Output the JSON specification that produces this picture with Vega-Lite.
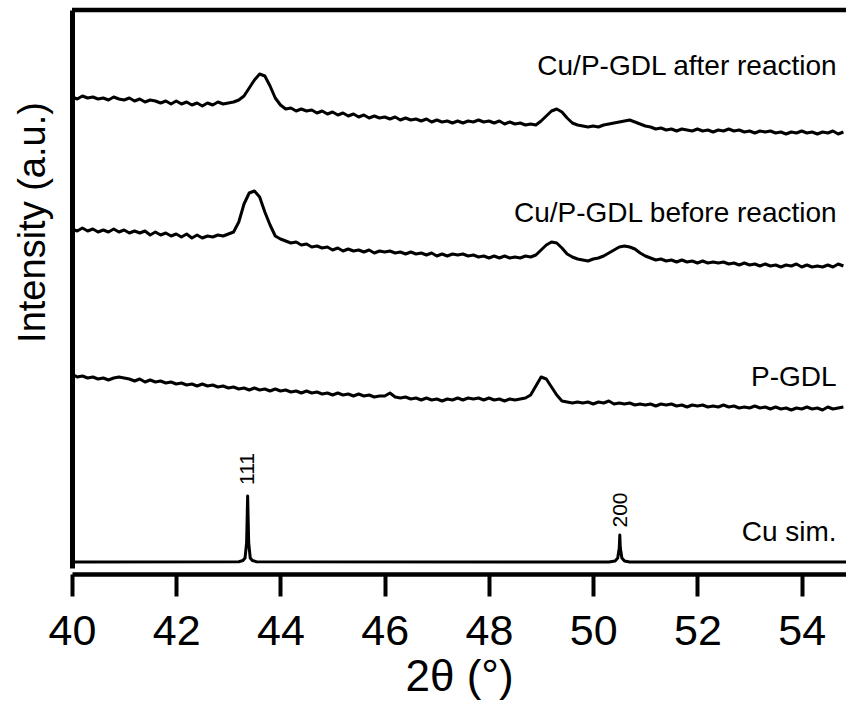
{
  "$schema": "https://vega.github.io/schema/vega-lite/v6.json",
  "width": 774,
  "height": 558,
  "autosize": {"type": "none"},
  "padding": {"left": 72, "top": 10, "right": 0, "bottom": 136},
  "config": {"view": {"stroke": null}, "font": "Liberation Sans"},
  "datasets": {
    "curves": [
      {"s":"A","x":40.0,"y":471},{"s":"A","x":40.1,"y":469},{"s":"A","x":40.2,"y":472},{"s":"A","x":40.3,"y":470},{"s":"A","x":40.4,"y":471},{"s":"A","x":40.5,"y":469},{"s":"A","x":40.6,"y":470},{"s":"A","x":40.7,"y":468},{"s":"A","x":40.8,"y":471},{"s":"A","x":40.9,"y":469},
      {"s":"A","x":41.0,"y":468},{"s":"A","x":41.1,"y":470},{"s":"A","x":41.2,"y":467},{"s":"A","x":41.3,"y":469},{"s":"A","x":41.4,"y":466},{"s":"A","x":41.5,"y":468},{"s":"A","x":41.6,"y":467},{"s":"A","x":41.7,"y":465},{"s":"A","x":41.8,"y":467},{"s":"A","x":41.9,"y":464},
      {"s":"A","x":42.0,"y":467},{"s":"A","x":42.1,"y":464},{"s":"A","x":42.2,"y":466},{"s":"A","x":42.3,"y":463},{"s":"A","x":42.4,"y":465},{"s":"A","x":42.5,"y":462},{"s":"A","x":42.6,"y":465},{"s":"A","x":42.7,"y":463},{"s":"A","x":42.8,"y":466},{"s":"A","x":42.9,"y":464},
      {"s":"A","x":43.0,"y":465},{"s":"A","x":43.1,"y":466},{"s":"A","x":43.2,"y":468},{"s":"A","x":43.3,"y":472},{"s":"A","x":43.4,"y":480},{"s":"A","x":43.5,"y":488},{"s":"A","x":43.6,"y":494},{"s":"A","x":43.7,"y":492},{"s":"A","x":43.8,"y":482},{"s":"A","x":43.9,"y":470},
      {"s":"A","x":44.0,"y":463},{"s":"A","x":44.1,"y":459},{"s":"A","x":44.2,"y":460},{"s":"A","x":44.3,"y":457},{"s":"A","x":44.4,"y":459},{"s":"A","x":44.5,"y":457},{"s":"A","x":44.6,"y":458},{"s":"A","x":44.7,"y":455},{"s":"A","x":44.8,"y":457},{"s":"A","x":44.9,"y":454},
      {"s":"A","x":45.0,"y":456},{"s":"A","x":45.1,"y":453},{"s":"A","x":45.2,"y":455},{"s":"A","x":45.3,"y":452},{"s":"A","x":45.4,"y":454},{"s":"A","x":45.5,"y":451},{"s":"A","x":45.6,"y":453},{"s":"A","x":45.7,"y":450},{"s":"A","x":45.8,"y":452},{"s":"A","x":45.9,"y":450},
      {"s":"A","x":46.0,"y":451},{"s":"A","x":46.1,"y":449},{"s":"A","x":46.2,"y":451},{"s":"A","x":46.3,"y":448},{"s":"A","x":46.4,"y":450},{"s":"A","x":46.5,"y":448},{"s":"A","x":46.6,"y":449},{"s":"A","x":46.7,"y":447},{"s":"A","x":46.8,"y":449},{"s":"A","x":46.9,"y":446},
      {"s":"A","x":47.0,"y":448},{"s":"A","x":47.1,"y":446},{"s":"A","x":47.2,"y":447},{"s":"A","x":47.3,"y":445},{"s":"A","x":47.4,"y":447},{"s":"A","x":47.5,"y":445},{"s":"A","x":47.6,"y":447},{"s":"A","x":47.7,"y":446},{"s":"A","x":47.8,"y":448},{"s":"A","x":47.9,"y":446},
      {"s":"A","x":48.0,"y":447},{"s":"A","x":48.1,"y":445},{"s":"A","x":48.2,"y":447},{"s":"A","x":48.3,"y":444},{"s":"A","x":48.4,"y":446},{"s":"A","x":48.5,"y":444},{"s":"A","x":48.6,"y":445},{"s":"A","x":48.7,"y":443},{"s":"A","x":48.8,"y":444},{"s":"A","x":48.9,"y":443},
      {"s":"A","x":49.0,"y":447},{"s":"A","x":49.1,"y":452},{"s":"A","x":49.2,"y":457},{"s":"A","x":49.3,"y":459},{"s":"A","x":49.4,"y":456},{"s":"A","x":49.5,"y":450},{"s":"A","x":49.6,"y":445},{"s":"A","x":49.7,"y":443},{"s":"A","x":49.8,"y":442},{"s":"A","x":49.9,"y":441},
      {"s":"A","x":50.0,"y":442},{"s":"A","x":50.1,"y":441},{"s":"A","x":50.2,"y":443},{"s":"A","x":50.3,"y":444},{"s":"A","x":50.4,"y":445},{"s":"A","x":50.5,"y":446},{"s":"A","x":50.6,"y":447},{"s":"A","x":50.7,"y":448},{"s":"A","x":50.8,"y":446},{"s":"A","x":50.9,"y":444},
      {"s":"A","x":51.0,"y":442},{"s":"A","x":51.1,"y":441},{"s":"A","x":51.2,"y":439},{"s":"A","x":51.3,"y":440},{"s":"A","x":51.4,"y":438},{"s":"A","x":51.5,"y":439},{"s":"A","x":51.6,"y":437},{"s":"A","x":51.7,"y":439},{"s":"A","x":51.8,"y":438},{"s":"A","x":51.9,"y":437},
      {"s":"A","x":52.0,"y":439},{"s":"A","x":52.1,"y":437},{"s":"A","x":52.2,"y":438},{"s":"A","x":52.3,"y":436},{"s":"A","x":52.4,"y":438},{"s":"A","x":52.5,"y":437},{"s":"A","x":52.6,"y":439},{"s":"A","x":52.7,"y":437},{"s":"A","x":52.8,"y":438},{"s":"A","x":52.9,"y":436},
      {"s":"A","x":53.0,"y":437},{"s":"A","x":53.1,"y":435},{"s":"A","x":53.2,"y":437},{"s":"A","x":53.3,"y":436},{"s":"A","x":53.4,"y":437},{"s":"A","x":53.5,"y":435},{"s":"A","x":53.6,"y":436},{"s":"A","x":53.7,"y":434},{"s":"A","x":53.8,"y":436},{"s":"A","x":53.9,"y":435},
      {"s":"A","x":54.0,"y":437},{"s":"A","x":54.1,"y":435},{"s":"A","x":54.2,"y":436},{"s":"A","x":54.3,"y":434},{"s":"A","x":54.4,"y":436},{"s":"A","x":54.5,"y":435},{"s":"A","x":54.6,"y":437},{"s":"A","x":54.7,"y":434},{"s":"A","x":54.8,"y":436},

      {"s":"B","x":40.0,"y":339},{"s":"B","x":40.1,"y":337},{"s":"B","x":40.2,"y":340},{"s":"B","x":40.3,"y":337},{"s":"B","x":40.4,"y":339},{"s":"B","x":40.5,"y":336},{"s":"B","x":40.6,"y":338},{"s":"B","x":40.7,"y":336},{"s":"B","x":40.8,"y":339},{"s":"B","x":40.9,"y":336},
      {"s":"B","x":41.0,"y":338},{"s":"B","x":41.1,"y":335},{"s":"B","x":41.2,"y":337},{"s":"B","x":41.3,"y":335},{"s":"B","x":41.4,"y":337},{"s":"B","x":41.5,"y":333},{"s":"B","x":41.6,"y":336},{"s":"B","x":41.7,"y":333},{"s":"B","x":41.8,"y":335},{"s":"B","x":41.9,"y":332},
      {"s":"B","x":42.0,"y":334},{"s":"B","x":42.1,"y":331},{"s":"B","x":42.2,"y":334},{"s":"B","x":42.3,"y":330},{"s":"B","x":42.4,"y":333},{"s":"B","x":42.5,"y":330},{"s":"B","x":42.6,"y":332},{"s":"B","x":42.7,"y":331},{"s":"B","x":42.8,"y":333},{"s":"B","x":42.9,"y":332},
      {"s":"B","x":43.0,"y":334},{"s":"B","x":43.1,"y":336},{"s":"B","x":43.2,"y":346},{"s":"B","x":43.3,"y":364},{"s":"B","x":43.4,"y":375},{"s":"B","x":43.5,"y":377},{"s":"B","x":43.6,"y":371},{"s":"B","x":43.7,"y":356},{"s":"B","x":43.8,"y":343},{"s":"B","x":43.9,"y":332},
      {"s":"B","x":44.0,"y":329},{"s":"B","x":44.1,"y":327},{"s":"B","x":44.2,"y":325},{"s":"B","x":44.3,"y":326},{"s":"B","x":44.4,"y":323},{"s":"B","x":44.5,"y":324},{"s":"B","x":44.6,"y":321},{"s":"B","x":44.7,"y":322},{"s":"B","x":44.8,"y":320},{"s":"B","x":44.9,"y":321},
      {"s":"B","x":45.0,"y":318},{"s":"B","x":45.1,"y":320},{"s":"B","x":45.2,"y":317},{"s":"B","x":45.3,"y":319},{"s":"B","x":45.4,"y":317},{"s":"B","x":45.5,"y":318},{"s":"B","x":45.6,"y":316},{"s":"B","x":45.7,"y":318},{"s":"B","x":45.8,"y":315},{"s":"B","x":45.9,"y":317},
      {"s":"B","x":46.0,"y":316},{"s":"B","x":46.1,"y":317},{"s":"B","x":46.2,"y":315},{"s":"B","x":46.3,"y":316},{"s":"B","x":46.4,"y":314},{"s":"B","x":46.5,"y":316},{"s":"B","x":46.6,"y":314},{"s":"B","x":46.7,"y":315},{"s":"B","x":46.8,"y":313},{"s":"B","x":46.9,"y":315},
      {"s":"B","x":47.0,"y":312},{"s":"B","x":47.1,"y":314},{"s":"B","x":47.2,"y":312},{"s":"B","x":47.3,"y":314},{"s":"B","x":47.4,"y":313},{"s":"B","x":47.5,"y":314},{"s":"B","x":47.6,"y":312},{"s":"B","x":47.7,"y":313},{"s":"B","x":47.8,"y":311},{"s":"B","x":47.9,"y":312},
      {"s":"B","x":48.0,"y":310},{"s":"B","x":48.1,"y":312},{"s":"B","x":48.2,"y":310},{"s":"B","x":48.3,"y":312},{"s":"B","x":48.4,"y":310},{"s":"B","x":48.5,"y":311},{"s":"B","x":48.6,"y":310},{"s":"B","x":48.7,"y":312},{"s":"B","x":48.8,"y":311},{"s":"B","x":48.9,"y":313},
      {"s":"B","x":49.0,"y":318},{"s":"B","x":49.1,"y":323},{"s":"B","x":49.2,"y":326},{"s":"B","x":49.3,"y":325},{"s":"B","x":49.4,"y":320},{"s":"B","x":49.5,"y":314},{"s":"B","x":49.6,"y":311},{"s":"B","x":49.7,"y":309},{"s":"B","x":49.8,"y":308},{"s":"B","x":49.9,"y":307},
      {"s":"B","x":50.0,"y":309},{"s":"B","x":50.1,"y":310},{"s":"B","x":50.2,"y":312},{"s":"B","x":50.3,"y":315},{"s":"B","x":50.4,"y":318},{"s":"B","x":50.5,"y":321},{"s":"B","x":50.6,"y":322},{"s":"B","x":50.7,"y":321},{"s":"B","x":50.8,"y":319},{"s":"B","x":50.9,"y":315},
      {"s":"B","x":51.0,"y":312},{"s":"B","x":51.1,"y":310},{"s":"B","x":51.2,"y":308},{"s":"B","x":51.3,"y":309},{"s":"B","x":51.4,"y":307},{"s":"B","x":51.5,"y":308},{"s":"B","x":51.6,"y":306},{"s":"B","x":51.7,"y":308},{"s":"B","x":51.8,"y":306},{"s":"B","x":51.9,"y":307},
      {"s":"B","x":52.0,"y":305},{"s":"B","x":52.1,"y":307},{"s":"B","x":52.2,"y":305},{"s":"B","x":52.3,"y":306},{"s":"B","x":52.4,"y":305},{"s":"B","x":52.5,"y":306},{"s":"B","x":52.6,"y":304},{"s":"B","x":52.7,"y":305},{"s":"B","x":52.8,"y":303},{"s":"B","x":52.9,"y":305},
      {"s":"B","x":53.0,"y":303},{"s":"B","x":53.1,"y":304},{"s":"B","x":53.2,"y":302},{"s":"B","x":53.3,"y":304},{"s":"B","x":53.4,"y":302},{"s":"B","x":53.5,"y":303},{"s":"B","x":53.6,"y":301},{"s":"B","x":53.7,"y":303},{"s":"B","x":53.8,"y":302},{"s":"B","x":53.9,"y":304},
      {"s":"B","x":54.0,"y":301},{"s":"B","x":54.1,"y":303},{"s":"B","x":54.2,"y":301},{"s":"B","x":54.3,"y":302},{"s":"B","x":54.4,"y":301},{"s":"B","x":54.5,"y":303},{"s":"B","x":54.6,"y":301},{"s":"B","x":54.7,"y":304},{"s":"B","x":54.8,"y":302},

      {"s":"C","x":40.0,"y":194},{"s":"C","x":40.1,"y":191},{"s":"C","x":40.2,"y":192},{"s":"C","x":40.3,"y":190},{"s":"C","x":40.4,"y":191},{"s":"C","x":40.5,"y":189},{"s":"C","x":40.6,"y":190},{"s":"C","x":40.7,"y":188},{"s":"C","x":40.8,"y":190},{"s":"C","x":40.9,"y":191},
      {"s":"C","x":41.0,"y":190},{"s":"C","x":41.1,"y":189},{"s":"C","x":41.2,"y":187},{"s":"C","x":41.3,"y":189},{"s":"C","x":41.4,"y":186},{"s":"C","x":41.5,"y":188},{"s":"C","x":41.6,"y":186},{"s":"C","x":41.7,"y":187},{"s":"C","x":41.8,"y":185},{"s":"C","x":41.9,"y":186},
      {"s":"C","x":42.0,"y":184},{"s":"C","x":42.1,"y":185},{"s":"C","x":42.2,"y":183},{"s":"C","x":42.3,"y":184},{"s":"C","x":42.4,"y":182},{"s":"C","x":42.5,"y":184},{"s":"C","x":42.6,"y":182},{"s":"C","x":42.7,"y":183},{"s":"C","x":42.8,"y":181},{"s":"C","x":42.9,"y":182},
      {"s":"C","x":43.0,"y":180},{"s":"C","x":43.1,"y":181},{"s":"C","x":43.2,"y":179},{"s":"C","x":43.3,"y":180},{"s":"C","x":43.4,"y":178},{"s":"C","x":43.5,"y":180},{"s":"C","x":43.6,"y":178},{"s":"C","x":43.7,"y":179},{"s":"C","x":43.8,"y":177},{"s":"C","x":43.9,"y":179},
      {"s":"C","x":44.0,"y":177},{"s":"C","x":44.1,"y":178},{"s":"C","x":44.2,"y":176},{"s":"C","x":44.3,"y":177},{"s":"C","x":44.4,"y":175},{"s":"C","x":44.5,"y":177},{"s":"C","x":44.6,"y":175},{"s":"C","x":44.7,"y":176},{"s":"C","x":44.8,"y":174},{"s":"C","x":44.9,"y":175},
      {"s":"C","x":45.0,"y":173},{"s":"C","x":45.1,"y":175},{"s":"C","x":45.2,"y":173},{"s":"C","x":45.3,"y":174},{"s":"C","x":45.4,"y":172},{"s":"C","x":45.5,"y":174},{"s":"C","x":45.6,"y":172},{"s":"C","x":45.7,"y":173},{"s":"C","x":45.8,"y":171},{"s":"C","x":45.9,"y":172},
      {"s":"C","x":46.0,"y":172},{"s":"C","x":46.1,"y":175},{"s":"C","x":46.2,"y":171},{"s":"C","x":46.3,"y":170},{"s":"C","x":46.4,"y":171},{"s":"C","x":46.5,"y":169},{"s":"C","x":46.6,"y":170},{"s":"C","x":46.7,"y":168},{"s":"C","x":46.8,"y":170},{"s":"C","x":46.9,"y":168},
      {"s":"C","x":47.0,"y":169},{"s":"C","x":47.1,"y":167},{"s":"C","x":47.2,"y":169},{"s":"C","x":47.3,"y":168},{"s":"C","x":47.4,"y":170},{"s":"C","x":47.5,"y":168},{"s":"C","x":47.6,"y":170},{"s":"C","x":47.7,"y":169},{"s":"C","x":47.8,"y":170},{"s":"C","x":47.9,"y":168},
      {"s":"C","x":48.0,"y":170},{"s":"C","x":48.1,"y":168},{"s":"C","x":48.2,"y":169},{"s":"C","x":48.3,"y":167},{"s":"C","x":48.4,"y":169},{"s":"C","x":48.5,"y":168},{"s":"C","x":48.6,"y":169},{"s":"C","x":48.7,"y":170},{"s":"C","x":48.8,"y":173},{"s":"C","x":48.9,"y":182},
      {"s":"C","x":49.0,"y":191},{"s":"C","x":49.1,"y":189},{"s":"C","x":49.2,"y":181},{"s":"C","x":49.3,"y":173},{"s":"C","x":49.4,"y":167},{"s":"C","x":49.5,"y":166},{"s":"C","x":49.6,"y":165},{"s":"C","x":49.7,"y":166},{"s":"C","x":49.8,"y":165},{"s":"C","x":49.9,"y":166},
      {"s":"C","x":50.0,"y":164},{"s":"C","x":50.1,"y":166},{"s":"C","x":50.2,"y":165},{"s":"C","x":50.3,"y":167},{"s":"C","x":50.4,"y":164},{"s":"C","x":50.5,"y":165},{"s":"C","x":50.6,"y":164},{"s":"C","x":50.7,"y":165},{"s":"C","x":50.8,"y":163},{"s":"C","x":50.9,"y":164},
      {"s":"C","x":51.0,"y":163},{"s":"C","x":51.1,"y":164},{"s":"C","x":51.2,"y":162},{"s":"C","x":51.3,"y":164},{"s":"C","x":51.4,"y":163},{"s":"C","x":51.5,"y":164},{"s":"C","x":51.6,"y":162},{"s":"C","x":51.7,"y":163},{"s":"C","x":51.8,"y":161},{"s":"C","x":51.9,"y":163},
      {"s":"C","x":52.0,"y":162},{"s":"C","x":52.1,"y":163},{"s":"C","x":52.2,"y":161},{"s":"C","x":52.3,"y":162},{"s":"C","x":52.4,"y":161},{"s":"C","x":52.5,"y":163},{"s":"C","x":52.6,"y":161},{"s":"C","x":52.7,"y":162},{"s":"C","x":52.8,"y":160},{"s":"C","x":52.9,"y":161},
      {"s":"C","x":53.0,"y":160},{"s":"C","x":53.1,"y":162},{"s":"C","x":53.2,"y":160},{"s":"C","x":53.3,"y":161},{"s":"C","x":53.4,"y":159},{"s":"C","x":53.5,"y":161},{"s":"C","x":53.6,"y":159},{"s":"C","x":53.7,"y":160},{"s":"C","x":53.8,"y":158},{"s":"C","x":53.9,"y":160},
      {"s":"C","x":54.0,"y":159},{"s":"C","x":54.1,"y":161},{"s":"C","x":54.2,"y":159},{"s":"C","x":54.3,"y":160},{"s":"C","x":54.4,"y":158},{"s":"C","x":54.5,"y":161},{"s":"C","x":54.6,"y":159},{"s":"C","x":54.7,"y":160},{"s":"C","x":54.8,"y":161},

      {"s":"D","x":40.0,"y":6},{"s":"D","x":43.2,"y":6.3},{"s":"D","x":43.28,"y":7.5},{"s":"D","x":43.32,"y":10},{"s":"D","x":43.35,"y":25},{"s":"D","x":43.37,"y":72},{"s":"D","x":43.39,"y":25},{"s":"D","x":43.42,"y":10},{"s":"D","x":43.46,"y":7.5},{"s":"D","x":43.54,"y":6.3},
      {"s":"D","x":50.3,"y":6},{"s":"D","x":50.42,"y":7},{"s":"D","x":50.47,"y":10},{"s":"D","x":50.5,"y":20},{"s":"D","x":50.51,"y":33},{"s":"D","x":50.52,"y":20},{"s":"D","x":50.55,"y":10},{"s":"D","x":50.6,"y":7},{"s":"D","x":50.7,"y":6},{"s":"D","x":54.85,"y":6}
    ],
    "labels": [
      {"name":"Cu/P-GDL after reaction","x":54.67,"y":493},
      {"name":"Cu/P-GDL before reaction","x":54.67,"y":346},
      {"name":"P-GDL","x":54.67,"y":182},
      {"name":"Cu sim.","x":54.67,"y":27}
    ],
    "peaks": [
      {"hkl":"111","x":43.37,"y":99},
      {"hkl":"200","x":50.53,"y":58}
    ]
  },
  "layer": [
    {
      "data": {"name": "curves"},
      "mark": {"type": "line", "color": "black", "strokeWidth": 3, "strokeJoin": "round", "clip": true},
      "encoding": {
        "x": {
          "field": "x", "type": "quantitative",
          "scale": {"domain": [40, 54.85], "nice": false, "zero": false},
          "axis": {
            "title": "2θ (°)",
            "values": [40, 42, 44, 46, 48, 50, 52, 54],
            "grid": false,
            "offset": 6,
            "domainWidth": 4.5, "domainColor": "black",
            "tickSize": 22, "tickWidth": 4, "tickColor": "black",
            "labelFontSize": 43, "labelColor": "black", "labelPadding": 14,
            "labelFlush": false, "labelOverlap": false,
            "titleFontSize": 44, "titleFontWeight": "normal", "titleColor": "black", "titlePadding": 2
          }
        },
        "y": {
          "field": "y", "type": "quantitative",
          "scale": {"domain": [0, 558], "nice": false, "zero": false},
          "axis": {
            "title": "Intensity (a.u.)",
            "labels": false, "ticks": false, "grid": false,
            "domainWidth": 5, "domainColor": "black",
            "titleFontSize": 38, "titleFontWeight": "normal", "titleColor": "black",
            "titleAngle": -90, "titleAlign": "center", "titleBaseline": "middle",
            "titleX": -39, "titleY": 212
          }
        },
        "detail": {"field": "s", "type": "nominal"}
      }
    },
    {
      "data": {"values": [{"top": 558}]},
      "mark": {"type": "rule", "color": "black", "strokeWidth": 4.5},
      "encoding": {"y": {"field": "top", "type": "quantitative"}}
    },
    {
      "data": {"name": "labels"},
      "mark": {"type": "text", "align": "right", "baseline": "alphabetic", "fontSize": 28, "color": "black"},
      "encoding": {
        "x": {"field": "x", "type": "quantitative"},
        "y": {"field": "y", "type": "quantitative"},
        "text": {"field": "name"}
      }
    },
    {
      "data": {"name": "peaks"},
      "mark": {"type": "text", "align": "center", "baseline": "middle", "angle": 270, "fontSize": 21, "color": "black"},
      "encoding": {
        "x": {"field": "x", "type": "quantitative"},
        "y": {"field": "y", "type": "quantitative"},
        "text": {"field": "hkl"}
      }
    }
  ]
}
